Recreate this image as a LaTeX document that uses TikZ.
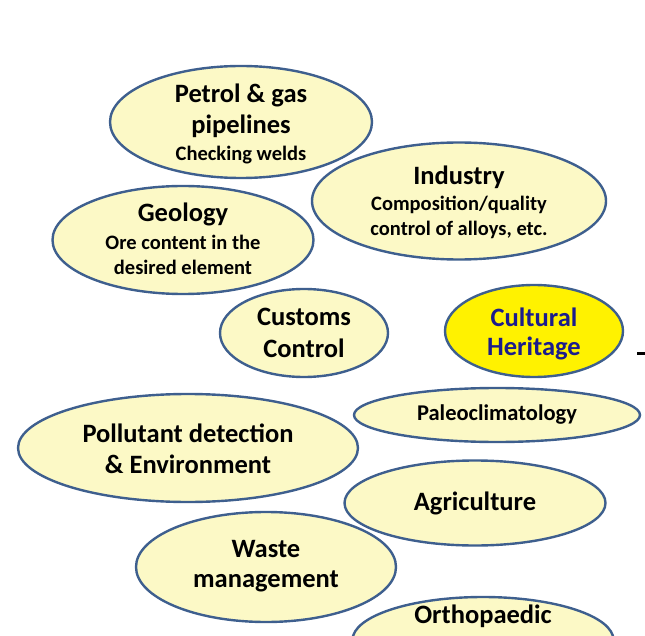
\documentclass[tikz,border=0pt]{standalone}
\usepackage{fontspec}
\setmainfont{Carlito}
\usetikzlibrary{shapes.geometric}
\definecolor{ringblue}{HTML}{3E5F8E}
\definecolor{paleyel}{HTML}{FCF9C6}
\definecolor{hiyel}{HTML}{FFF200}
\definecolor{navytext}{HTML}{1C1C8C}
\tikzset{
  bub/.style={ellipse, draw=ringblue, line width=2.4pt, fill=paleyel, inner sep=0pt},
  big/.style={font=\bfseries\fontsize{26.5}{30}\selectfont, text=black, inner sep=0pt},
  small/.style={font=\bfseries\fontsize{20.5}{24}\selectfont, text=black, inner sep=0pt},
  mid/.style={font=\bfseries\fontsize{22.5}{26}\selectfont, text=black, inner sep=0pt},
}
\begin{document}
\begin{tikzpicture}[x=1pt,y=-1pt]
\useasboundingbox (0,0) rectangle (645,636);
\begin{scope}
\clip (0,0) rectangle (645,636);
% Petrol
\node[bub, minimum width=262pt, minimum height=112pt] (petrol) at (241,122) {};
\node[big] (petrolA) at (241,95) {Petrol \& gas};
\node[big] (petrolB) at (241,126) {pipelines};
\node[small] (petrolC) at (241,155) {Checking welds};
% Industry
\node[bub, minimum width=294pt, minimum height=117pt] (industry) at (459,201) {};
\node[big] (industryA) at (459,177) {Industry};
\node[small] (industryB) at (459,205) {Composition/quality};
\node[small] (industryC) at (459,230) {control of alloys, etc.};
% Geology
\node[bub, minimum width=261pt, minimum height=108pt] (geology) at (183,240) {};
\node[big] (geologyA) at (183,214) {Geology};
\node[small] (geologyB) at (183,242) {Ore content in the};
\node[small] (geologyC) at (183,267) {desired element};
% Customs
\node[bub, minimum width=168pt, minimum height=88pt] (customs) at (304,333) {};
\node[big] (customsA) at (304,317) {Customs};
\node[big] (customsB) at (304,348) {Control};
% Cultural heritage
\node[bub, fill=hiyel, minimum width=178pt, minimum height=92pt] (heritage) at (534,331) {};
\node[big, text=navytext] (heritageA) at (534,317) {Cultural};
\node[big, text=navytext] (heritageB) at (534,348) {Heritage};
% Paleoclimatology
\node[bub, minimum width=286pt, minimum height=54pt] (paleo) at (497,415) {};
\node[mid] (paleoA) at (497,415) {Paleoclimatology};
% Pollutant
\node[bub, minimum width=340pt, minimum height=108pt] (pollut) at (188,448) {};
\node[big] (pollutA) at (188,433) {Pollutant detection};
\node[big] (pollutB) at (188,464) {\& Environment};
% Agriculture
\node[bub, minimum width=261pt, minimum height=85pt] (agri) at (475,503) {};
\node[big] (agriA) at (475,503) {Agriculture};
% Waste
\node[bub, minimum width=260pt, minimum height=110pt] (waste) at (266,567) {};
\node[big] (wasteA) at (266,549) {Waste};
\node[big] (wasteB) at (266,581) {management};
% Orthopaedic
\node[bub, minimum width=261pt, minimum height=86pt] (ortho) at (483,640) {};
\node[big] (orthoA) at (483,616) {Orthopaedic};
\end{scope}
% small dash at right edge
\coordinate (dashL) at (637,353);
\coordinate (dashR) at (645,353);
\draw[line width=3pt, black] (dashL) -- (dashR);
\end{tikzpicture}
\end{document}
